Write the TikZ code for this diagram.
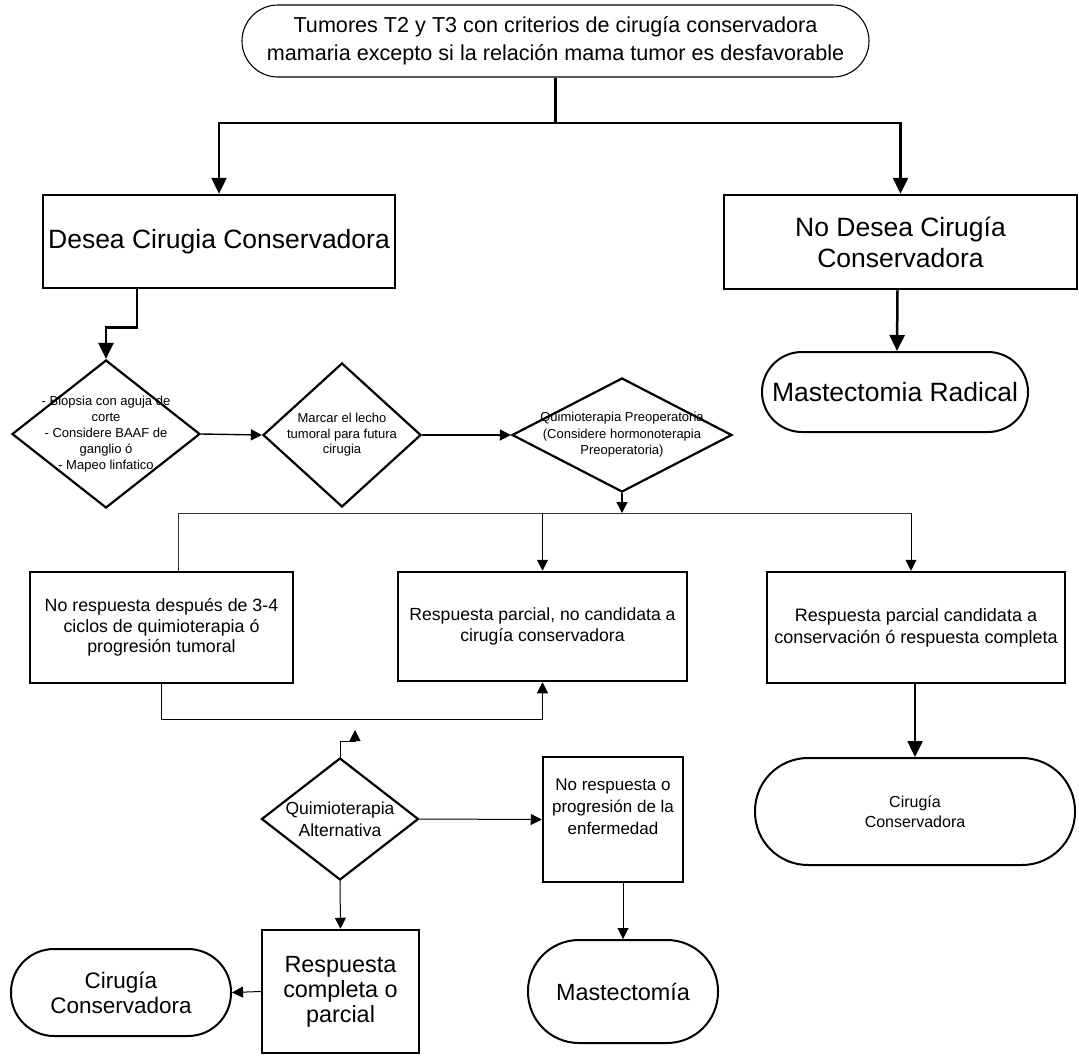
\documentclass[tikz,border=0pt]{standalone}
\usepackage{fontspec}
\setmainfont{Liberation Sans}
\usetikzlibrary{shapes.geometric,arrows.meta}

\tikzset{
  box/.style={draw, rectangle, line width=2.5pt, inner sep=0pt, align=center},
  term/.style={draw, rectangle, line width=2pt, inner sep=0pt, align=center},
  dec/.style={draw, diamond, line width=2.2pt, inner sep=0pt},
  txt/.style={inner sep=0pt, align=center},
  heavy/.style={line width=2.5pt},
  heavyarrow/.style={line width=2.5pt, -{Triangle[length=16pt,width=15pt]}},
  midarrow/.style={line width=1.4pt, -{Triangle[length=11pt,width=11pt]}},
  thinline/.style={line width=1pt, black!80},
  thinarrow/.style={line width=1pt, -{Triangle[length=11pt,width=11pt]}},
}

\begin{document}
\begin{tikzpicture}[x=1pt,y=-1pt]
\useasboundingbox (0,0) rectangle (1079,1055);

% ---- top level ----
\node[term, rounded corners=36pt, line width=1.1pt, minimum width=627pt, minimum height=72pt,
      font=\fontsize{21.6}{28}\selectfont] (top) at (555.5,41)
  {Tumores T2 y T3 con criterios de cirugía conservadora\\mamaria excepto si la relación mama tumor es desfavorable};

\node[box, minimum width=352pt, minimum height=93pt, font=\fontsize{26.5}{31}\selectfont]
  (desea) at (219,241.5) {Desea Cirugia Conservadora};
\node[box, minimum width=353pt, minimum height=94pt, font=\fontsize{26.5}{31}\selectfont]
  (nodesea) at (900.5,242) {No Desea Cirugía\\Conservadora};
\node[term, rounded corners=40pt, minimum width=266pt, minimum height=80pt,
      font=\fontsize{26.5}{31}\selectfont] (radical) at (895,392) {Mastectomia Radical};

% ---- preoperative steps ----
\node[dec, minimum width=188pt, minimum height=148pt] (d1) at (106,434) {};
\node[txt, font=\fontsize{13}{16}\selectfont] (d1t) at (d1.center)
  {- Biopsia con aguja de\\corte\\- Considere BAAF de\\ganglio ó\\- Mapeo linfatico};

\node[dec, minimum width=158pt, minimum height=144pt] (d2) at (342,435) {};
\node[txt, font=\fontsize{13}{15.5}\selectfont] (d2t) at (d2.center)
  {Marcar el lecho\\tumoral para futura\\cirugia};

\node[dec, minimum width=220pt, minimum height=114pt] (d3) at (622,435) {};
\node[txt, font=\fontsize{13}{16.5}\selectfont] (d3t) at (d3.center)
  {Quimioterapia Preoperatoria\\(Considere hormonoterapia\\Preoperatoria)};

% ---- responses ----
\node[box, minimum width=263pt, minimum height=111pt, font=\fontsize{17.8}{20.5}\selectfont]
  (bL) at (161.5,627.5) {No respuesta después de 3-4\\ciclos de quimioterapia ó\\progresión tumoral};
\node[box, minimum width=289pt, minimum height=109pt, font=\fontsize{17.6}{21}\selectfont]
  (bM) at (542.5,626.5) {Respuesta parcial, no candidata a\\cirugía conservadora};
\node[box, minimum width=298pt, minimum height=111pt, font=\fontsize{18}{22}\selectfont]
  (bR) at (916,627.5) {Respuesta parcial candidata a\\conservación ó respuesta completa};
\node[term, rounded corners=53pt, minimum width=320pt, minimum height=107pt,
      font=\fontsize{16}{20}\selectfont] (cR) at (915,811.5) {Cirugía\\Conservadora};

% ---- alternative chemotherapy ----
\node[dec, minimum width=157pt, minimum height=122pt] (d4) at (340,819) {};
\node[txt, font=\fontsize{17.5}{22}\selectfont] (d4t) at (d4.center) {Quimioterapia\\Alternativa};

\node[box, minimum width=140pt, minimum height=125pt] (bNo) at (613,819.5) {};
\node[txt, font=\fontsize{17}{22}\selectfont] (bNot) at (613,807)
  {No respuesta o\\progresión de la\\enfermedad};
\node[term, rounded corners=51pt, minimum width=190pt, minimum height=103pt,
      font=\fontsize{23.4}{25}\selectfont] (mast) at (623,991.5) {Mastectomía};

\node[box, minimum width=157pt, minimum height=123pt, font=\fontsize{23.4}{25}\selectfont]
  (bResp) at (340.5,991.5) {Respuesta\\completa o\\parcial};
\node[term, rounded corners=43pt, minimum width=220pt, minimum height=87pt,
      font=\fontsize{22.5}{25}\selectfont] (cL) at (121,992.5) {Cirugía\\Conservadora};

% ---- connectors ----
\coordinate (split) at (555.5,123);
\draw[heavy] (top.south) -- (split);
\draw[heavyarrow] (split) -| (desea.north);
\draw[heavyarrow] (split) -| (nodesea.north);

\draw[heavyarrow] ([xshift=-82pt]desea.south) -- ++(0,38) -| (d1.north);
\draw[heavyarrow] ([xshift=-3pt]nodesea.south) -- ([xshift=2pt]radical.north);

\draw[midarrow] (d1.east) -- (d2.west);
\draw[midarrow] (d2.east) -- (d3.west);

\coordinate (busL) at (178,513);
\coordinate (busR) at (911,513);
\draw[midarrow] (d3.south) -- (d3.south |- busL);
\draw[thinline] (busL) -- (busR);
\draw[thinline] (busL) -- (busL |- bL.north);
\draw[thinarrow] (bM.north |- busL) -- (bM.north);
\draw[thinarrow] (busR) -- (busR |- bR.north);

\draw[thinarrow] (bL.south) -- ++(0,35) -| (bM.south);

\coordinate (stray) at (355,730);
\draw[thinarrow] (d4.north) -- ++(0,-15) -| (stray);

\draw[thinarrow] (d4.east) -- (bNo.west);
\draw[thinarrow] (mast.north |- bNo.south) -- (mast.north);
\draw[thinarrow] (d4.south) -- (bResp.north);
\draw[thinarrow] (bResp.west) -- (cL.east);

\draw[heavyarrow] (cR.north |- bR.south) -- (cR.north);
\end{tikzpicture}
\end{document}
